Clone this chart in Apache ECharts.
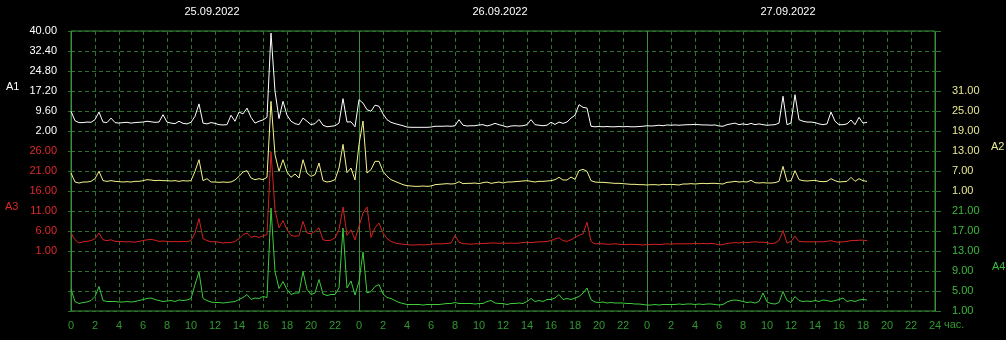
<!DOCTYPE html>
<html><head><meta charset="utf-8">
<script src="https://cdn.jsdelivr.net/npm/echarts@6/dist/echarts.min.js"></script>
<style>html,body{margin:0;padding:0;background:#000;}#c{width:1006px;height:340px;}</style>
</head><body><div id="c"></div>
<script>
// ---- data ----
const dates = ['25.09.2022', '26.09.2022', '27.09.2022'];
const hourUnit = 'час.';
const seriesNames = ['A1', 'A2', 'A3', 'A4'];
const ticksA1 = [2, 9.6, 17.2, 24.8, 32.4, 40];
const ticksA2 = [1, 7, 13, 19, 25, 31];
const ticksA3 = [1, 6, 11, 16, 21, 26];
const ticksA4 = [1, 5, 9, 13, 17, 21];
// samples every 20 minutes starting 25.09.2022 00:00
const A1 = [
9.5,5.9,5.2,5.2,5.4,5.3,6.3,9.2,5.4,5.2,
6.9,5.2,5.0,5.2,5.3,5.0,5.2,5.3,5.4,5.7,
5.5,5.3,5.4,8.2,5.4,5.0,4.8,5.7,4.9,4.7,
5.3,7.6,12.3,5.0,4.7,5.2,4.9,4.4,4.3,4.4,
8.0,5.7,9.2,8.5,10.7,7.2,5.0,5.7,6.2,7.2,
39.2,17.1,6.7,13.3,8.0,5.7,4.8,4.4,6.9,5.7,
4.4,4.8,6.4,4.2,3.6,3.8,4.0,5.0,14.3,5.4,
5.5,3.6,
13.9,12.6,10.1,9.5,11.8,11.4,8.5,6.3,
5.3,4.8,4.4,4.0,3.5,3.4,3.4,3.4,3.4,3.4,
3.5,3.8,3.8,3.8,3.9,3.8,4.0,6.3,4.2,3.9,
4.0,4.0,4.3,4.4,3.9,4.3,4.9,4.4,4.0,3.5,
3.9,4.0,3.9,4.0,4.4,6.3,4.4,4.2,4.0,4.2,
5.3,4.5,5.4,4.9,5.4,6.9,8.0,12.0,11.0,10.7,
3.8,3.6,3.7,3.6,3.7,3.6,3.6,3.7,3.6,3.7,
3.6,3.6,3.7,3.8,
4.0,3.9,4.0,4.2,4.0,4.3,
4.2,4.3,4.2,4.3,4.4,4.4,4.5,4.4,4.3,4.3,
4.2,4.3,3.9,3.8,4.4,4.7,5.0,4.4,4.7,4.4,
4.9,4.4,4.7,4.4,4.2,4.3,4.4,5.0,15.2,4.4,
5.0,15.8,6.3,5.7,5.4,5.4,5.2,4.7,4.4,4.7,
9.2,5.7,4.4,4.4,4.7,6.2,4.4,7.2,5.0,5.3
];
const A2 = [
6.4,3.7,3.4,3.7,3.7,3.9,4.7,6.9,4.1,3.9,
4.1,3.9,3.8,3.7,3.8,3.7,3.9,3.9,4.1,4.4,
4.3,4.1,4.2,4.1,4.1,4.0,4.1,3.9,4.1,4.0,
4.1,6.9,10.4,4.1,4.7,3.7,3.7,3.6,3.7,3.6,
3.7,4.3,5.4,6.7,7.1,4.9,4.4,4.7,4.4,5.1,
27.9,11.9,6.9,10.4,6.7,5.1,6.1,4.9,10.4,6.4,
5.4,5.9,9.4,4.1,3.7,3.9,4.4,7.9,15.0,6.5,
7.9,4.3,
15.0,22.0,6.4,7.4,9.9,9.9,6.9,5.4,
4.4,3.9,3.4,2.9,2.6,2.5,2.4,2.4,2.5,2.4,
2.5,2.9,3.0,3.1,3.2,3.1,3.2,3.8,3.2,3.3,
3.3,3.4,3.2,3.5,3.7,3.3,3.5,3.7,3.4,3.7,
3.7,3.8,3.9,4.0,4.1,3.9,3.7,3.9,3.9,4.0,
4.1,4.4,5.1,4.3,4.3,5.2,4.5,7.1,7.5,6.9,
4.1,3.7,3.6,3.6,3.5,3.4,3.3,3.3,3.2,3.1,
3.0,3.0,2.9,2.9,
2.8,2.9,2.9,2.8,3.0,2.9,
3.0,2.9,2.8,3.1,3.1,3.2,3.1,3.2,3.3,3.2,
3.3,3.3,3.2,3.1,3.6,3.7,3.9,3.7,3.8,3.7,
4.2,3.5,3.4,3.5,3.4,3.4,3.5,3.9,8.4,3.9,
4.1,7.1,4.4,4.1,4.0,4.1,4.2,3.9,3.8,3.9,
4.7,4.1,3.7,3.8,3.9,5.1,3.9,4.7,4.1,3.9
];
const A3 = [
5.5,3.8,3.0,3.3,3.4,3.6,4.1,5.5,3.8,3.6,
3.8,3.4,3.4,3.3,3.3,3.3,3.2,3.4,3.6,3.8,
3.9,3.7,3.4,3.5,3.4,3.3,3.4,3.3,3.4,3.3,
3.6,5.5,9.1,4.1,3.6,3.3,3.3,3.2,3.0,3.1,
3.1,3.4,4.1,5.1,5.5,4.4,4.7,4.4,4.8,5.1,
25.8,11.3,6.8,8.6,6.3,4.9,4.7,4.8,8.4,5.5,
5.3,5.9,6.8,3.8,3.6,3.7,4.3,6.3,12.0,4.9,
6.3,3.8,
7.2,10.5,12.0,4.4,6.8,8.0,5.5,4.1,
3.4,3.0,2.8,2.7,2.6,2.5,2.5,2.6,2.5,2.6,
2.7,2.8,2.8,2.8,2.9,3.0,4.9,3.2,2.8,2.8,
2.7,2.8,2.8,2.9,2.9,3.0,3.0,2.9,3.0,2.9,
3.0,2.9,3.0,3.1,3.2,3.1,3.2,3.3,3.3,3.4,
3.6,4.0,4.3,3.6,3.4,3.8,4.4,4.9,5.3,8.2,
3.4,2.8,2.8,2.8,2.7,2.7,2.8,2.7,2.6,2.6,
2.7,2.6,2.6,2.5,
2.6,2.6,2.7,2.6,2.7,2.8,
2.7,2.8,2.8,2.8,2.8,2.8,2.9,2.8,2.9,2.8,
2.9,2.8,2.5,2.6,2.9,3.0,3.1,3.0,3.2,3.1,
3.2,3.3,3.2,3.2,3.1,2.8,3.0,3.6,6.1,3.0,
3.4,4.7,3.4,3.3,3.3,3.3,3.3,3.3,3.3,3.4,
3.6,3.3,3.2,3.3,3.4,3.6,3.6,3.7,3.7,3.6
];
const A4 = [
5.3,2.9,2.5,2.7,2.8,3.1,3.9,5.9,3.1,2.9,
2.9,2.9,2.8,2.8,2.9,2.8,2.9,3.1,3.3,3.5,
3.6,3.3,3.1,2.9,3.0,3.1,2.9,3.2,3.1,3.2,
3.5,6.3,8.8,3.5,3.1,2.8,2.7,2.7,2.6,2.7,
2.8,2.9,3.3,3.7,4.3,3.3,3.6,3.5,3.9,3.7,
21.6,8.9,5.5,6.9,5.3,4.3,4.6,4.6,8.9,5.3,
4.3,4.6,7.3,4.4,4.1,4.3,4.3,5.6,17.6,5.6,
7.0,4.2,
6.9,12.8,4.6,4.9,5.9,6.3,4.4,3.7,
3.5,3.1,2.7,2.5,2.3,2.3,2.3,2.3,2.2,2.3,
2.3,2.3,2.3,2.4,2.5,2.5,2.7,2.5,2.5,2.5,
2.5,2.4,2.5,2.5,2.9,3.1,2.6,2.5,2.5,2.3,
2.5,2.5,2.6,2.5,2.9,3.5,2.9,3.1,2.9,3.3,
3.3,3.6,4.3,3.3,3.5,3.3,3.6,3.9,4.6,5.6,
3.3,2.8,2.7,2.8,2.6,2.7,2.6,2.6,2.6,2.5,
2.5,2.4,2.4,2.3,
2.2,2.2,2.3,2.2,2.3,2.3,
2.3,2.3,2.4,2.3,2.4,2.4,2.3,2.4,2.3,2.4,
2.4,2.3,2.2,2.3,2.8,3.1,3.2,3.1,2.9,2.7,
2.8,2.6,2.9,4.6,2.8,2.5,2.4,2.7,4.9,3.1,
2.7,3.9,3.1,2.9,3.0,2.9,3.1,2.9,3.2,3.1,
2.9,3.1,3.3,3.6,2.9,3.1,2.9,3.2,3.3,3.2
];
const hours = A1.map((_, i) => i / 3);

// ---- layout / style ----
const FONT = 'Liberation Sans, Arial, sans-serif';
const ROWS = 14;
const C = { white: '#ffffff', yellow: '#f4f48c', red: '#d42222', green: '#3ccc3c',
  lblYellow: '#e8e88e', lblRed: '#dd2a2a', lblGreen: '#3cba3c', axisGreen: '#2f9a2f',
  dash: '#2e702e', solid: '#3d8f3d' };

function band(ticks, topRow) {
  const step = (ticks[ticks.length - 1] - ticks[0]) / (ticks.length - 1);
  const max = ticks[ticks.length - 1] + topRow * step;
  return { min: max - ROWS * step, max: max };
}
function valAxis(ticks, topRow, pos, color, margin) {
  const b = band(ticks, topRow);
  return {
    type: 'value', position: pos, min: b.min, max: b.max,
    axisLine: { show: false }, axisTick: { show: false }, splitLine: { show: false },
    axisLabel: { customValues: ticks, color: color, fontFamily: FONT, fontSize: 11, margin: margin,
      padding: [5, 0, 0, 0], formatter: v => Number(v).toFixed(2) }
  };
}
function gridAxis(pos, tickLen) {
  return { type: 'value', position: pos, min: 0, max: ROWS, interval: 1,
    axisLine: { show: false }, axisLabel: { show: false },
    axisTick: { show: true, length: tickLen, lineStyle: { color: C.dash, width: 1 } },
    splitLine: { show: pos === 'left', lineStyle: { color: C.dash, type: [4, 3], width: 1 } } };
}

const chart = echarts.init(document.getElementById('c'));
const seriesData = [A1, A2, A3, A4];
const seriesColors = [C.white, C.yellow, C.red, C.green];
const order = [3, 2, 1, 0];
chart.setOption({
  backgroundColor: '#000',
  animation: false,
  grid: { left: 71, right: 71, top: 31, bottom: 29, show: true, borderColor: C.solid, borderWidth: 1 },
  xAxis: [
    { type: 'value', position: 'bottom', min: 0, max: 72, interval: 2,
      axisLine: { show: false }, axisTick: { show: false },
      splitLine: { show: true, lineStyle: { color: C.dash, type: [4, 3], width: 1 } },
      axisLabel: { color: C.axisGreen, fontFamily: FONT, fontSize: 11, margin: 9,
        formatter: v => (v === 72 ? '24' : String(v % 24)) } },
    { type: 'value', position: 'top', min: 0, max: 72, interval: 24,
      axisLine: { show: false }, axisTick: { show: false },
      splitLine: { show: true, lineStyle: { color: C.solid, type: 'solid', width: 1 } },
      axisLabel: { customValues: [12, 36, 60], color: C.white, fontFamily: FONT, fontSize: 11, margin: 14,
        padding: [0, 6, 0, 0], formatter: v => dates[Math.floor(v / 24)] } }
  ],
  yAxis: [
    gridAxis('left', 3),
    valAxis(ticksA1, 0, 'left', C.white, 14),
    valAxis(ticksA2, 3, 'right', C.lblYellow, 17),
    valAxis(ticksA3, 6, 'left', C.lblRed, 14),
    valAxis(ticksA4, 9, 'right', C.lblGreen, 17),
    gridAxis('right', 6)
  ],
  graphic: [
    { type: 'text', left: 6, top: 81, style: { text: seriesNames[0], fill: C.white, font: '11px ' + FONT } },
    { type: 'text', left: 991, top: 141, style: { text: seriesNames[1], fill: C.lblYellow, font: '11px ' + FONT } },
    { type: 'text', left: 5, top: 201, style: { text: seriesNames[2], fill: C.lblRed, font: '11px ' + FONT } },
    { type: 'text', left: 992, top: 261, style: { text: seriesNames[3], fill: C.lblGreen, font: '11px ' + FONT } },
    { type: 'text', left: 944, top: 319, style: { text: hourUnit, fill: C.axisGreen, font: '11px ' + FONT } }
  ],
  series: order.map(k => ({
    name: seriesNames[k], type: 'line', xAxisIndex: 0, yAxisIndex: k + 1,
    showSymbol: false, symbol: 'none',
    lineStyle: { color: seriesColors[k], width: 1 },
    data: seriesData[k].map((v, i) => [hours[i], v])
  }))
});
</script>
</body></html>
